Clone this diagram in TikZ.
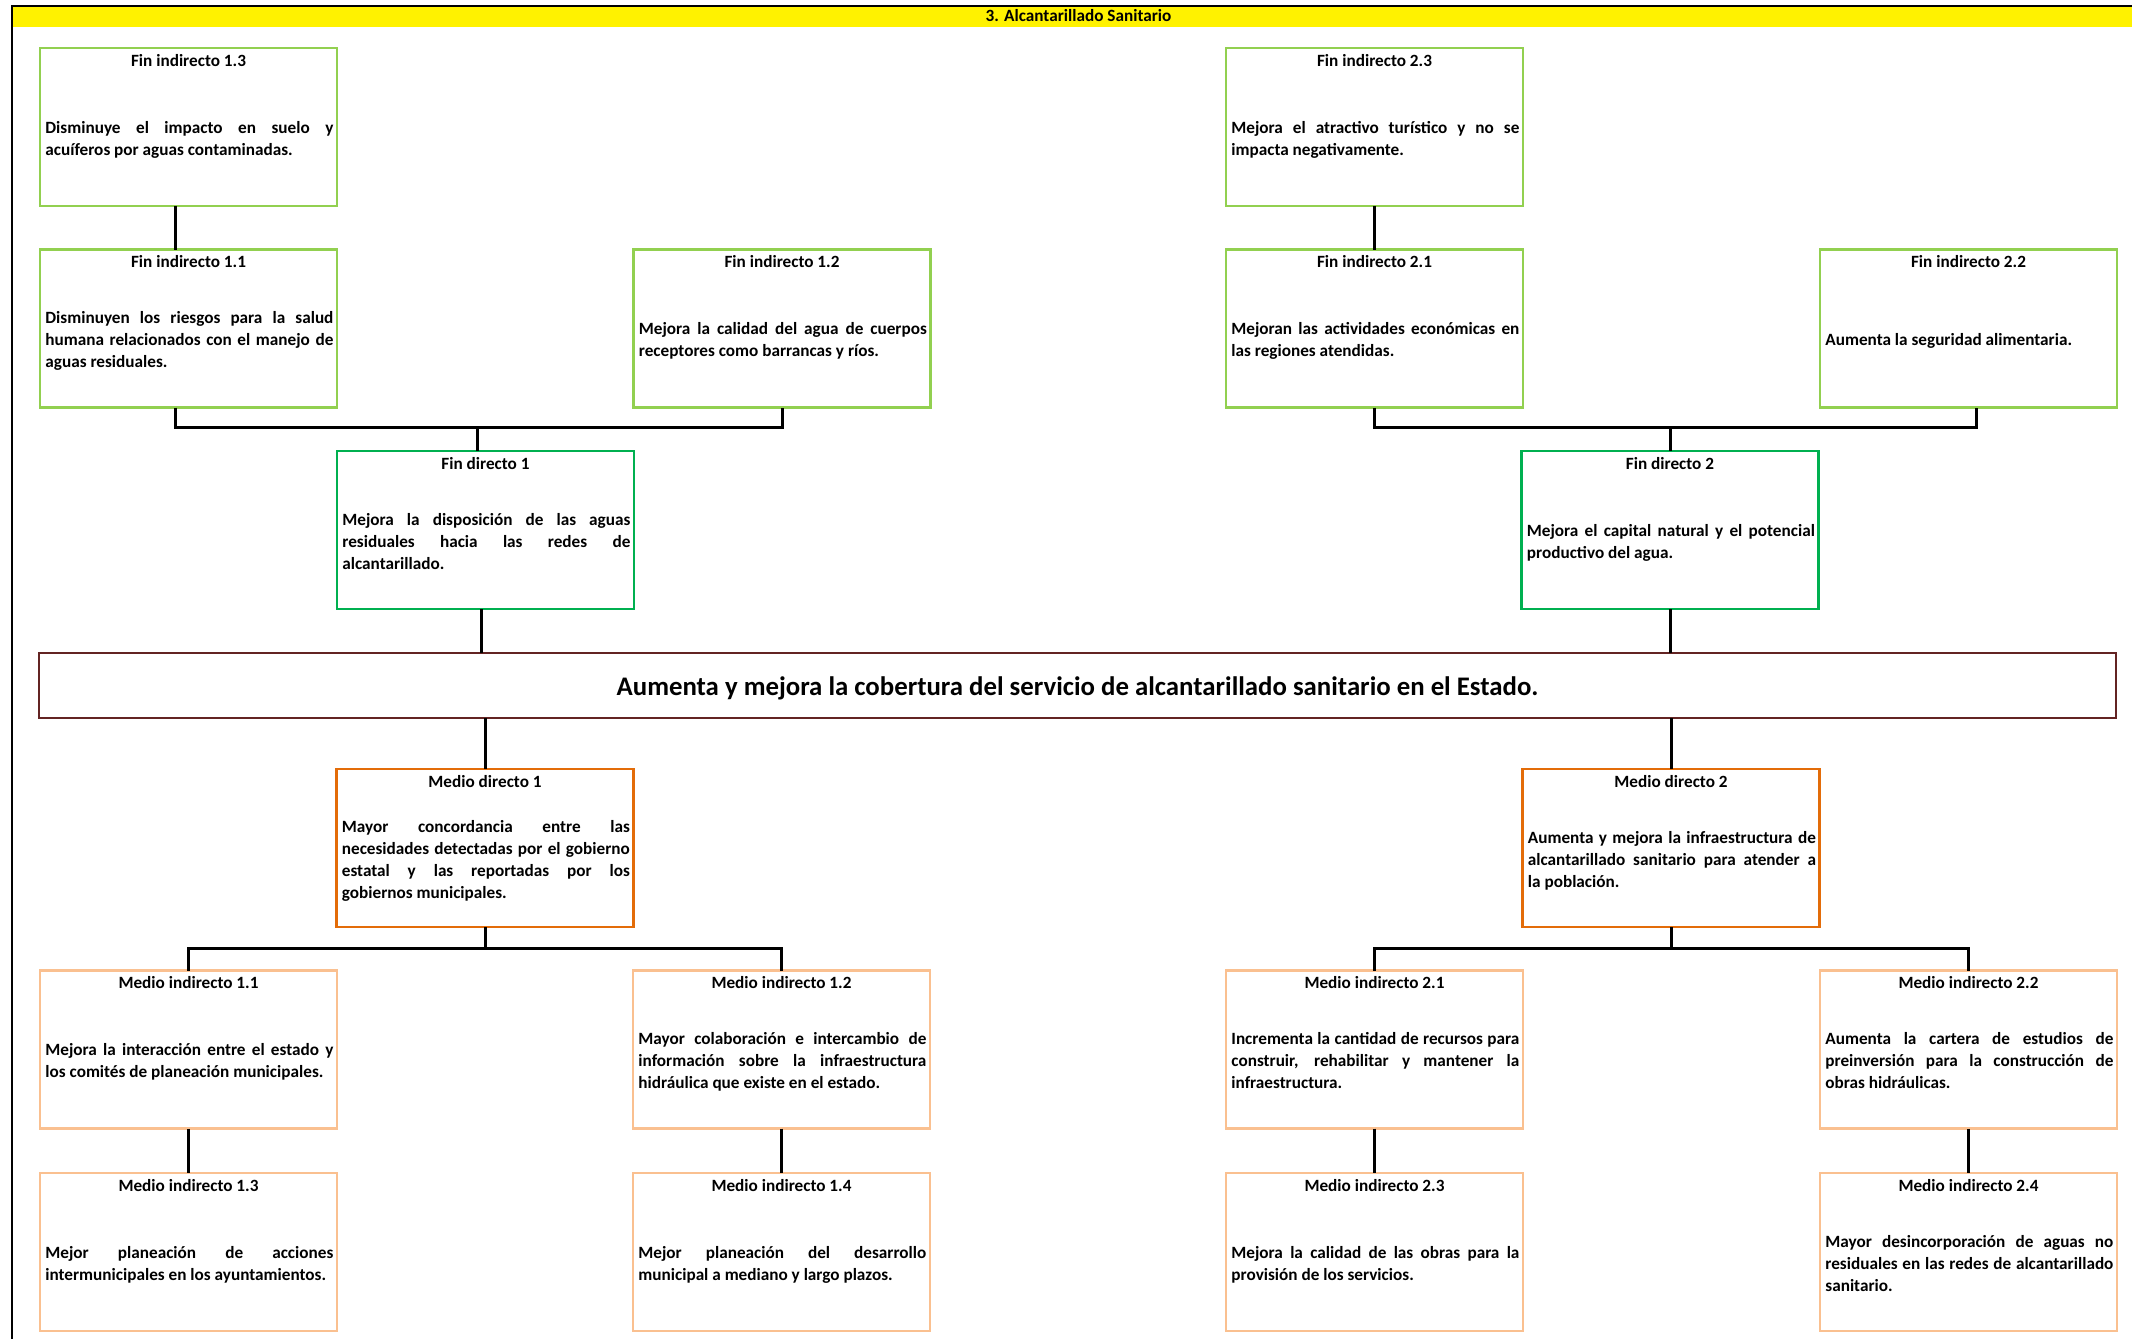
\documentclass[tikz,border=0pt]{standalone}
\usepackage{fontspec}
\setmainfont{Carlito}
\usetikzlibrary{calc}
\definecolor{fiGreen}{HTML}{92D050}
\definecolor{fdGreen}{HTML}{00B050}
\definecolor{mdOrange}{HTML}{E36C09}
\definecolor{miOrange}{HTML}{FAC090}
\definecolor{mainRed}{HTML}{632423}
\newcommand\jl[1]{\makebox[\linewidth][s]{\spaceskip=0pt\relax\xspaceskip=0pt\relax #1}\\}
% name, style, cx, cy, title, number of lines, body
\newcommand\mkbox[7]{%
  \node[#2] (#1) at (#3,#4) {};
  \node[ttl, anchor=base] (#1-t) at ($(#1.north)+(0,18)$) {#5};
  \node[bdy, anchor=base west] (#1-b) at ($(#1.north west)+(5,{96-11*(#6-1)})$) {#7};
}
\begin{document}
\begin{tikzpicture}[x=0.5pt,y=-0.5pt,
  boxbase/.style={rectangle, draw, line width=1.25pt, minimum width=148.5pt, minimum height=79pt, inner sep=0pt, outer sep=0pt},
  finind/.style={boxbase, draw=fiGreen},
  findir/.style={boxbase, draw=fdGreen},
  meddir/.style={boxbase, draw=mdOrange},
  medind/.style={boxbase, draw=miOrange},
  ttl/.style={font=\fontsize{8.6}{11}\selectfont\bfseries, inner sep=0pt},
  bdy/.style={font=\fontsize{8.6}{11}\selectfont\bfseries, text width=144pt, align=justify, inner sep=0pt},
  maintxt/.style={font=\fontsize{13.4}{16}\selectfont\bfseries, inner sep=0pt},
  conn/.style={line width=1.5pt, black},
]
\useasboundingbox (0,0) rectangle (2132,1339);
% frame and header band
\fill[yellow] (13,7) rectangle (2132,27);
\draw[line width=1pt, black] (12,1339) -- (12,6) -- (2132,6);
\node[ttl, anchor=base] (hdr) at (1078.5,21.5) {3. Alcantarillado Sanitario};

% fines indirectos
\mkbox{fi13}{finind}{188.5}{127}{Fin indirecto 1.3}{2}{\jl{Disminuye el impacto en suelo y}acuíferos por aguas contaminadas.}
\mkbox{fi23}{finind}{1374.5}{127}{Fin indirecto 2.3}{2}{\jl{Mejora el atractivo turístico y no se}impacta negativamente.}
\mkbox{fi11}{finind}{188.5}{328.5}{Fin indirecto 1.1}{3}{\jl{Disminuyen los riesgos para la salud}\jl{humana relacionados con el manejo de}aguas residuales.}
\mkbox{fi12}{finind}{782}{328.5}{Fin indirecto 1.2}{2}{\jl{Mejora la calidad del agua de cuerpos}receptores como barrancas y ríos.}
\mkbox{fi21}{finind}{1374.5}{328.5}{Fin indirecto 2.1}{2}{\jl{Mejoran las actividades económicas en}las regiones atendidas.}
\mkbox{fi22}{finind}{1968.5}{328.5}{Fin indirecto 2.2}{1}{Aumenta la seguridad alimentaria.}

% fines directos
\mkbox{fd1}{findir}{485.5}{530}{Fin directo 1}{3}{\jl{Mejora la disposición de las aguas}\jl{residuales hacia las redes de}alcantarillado.}
\mkbox{fd2}{findir}{1670}{530}{Fin directo 2}{2}{\jl{Mejora el capital natural y el potencial}productivo del agua.}

% objetivo central
\node[rectangle, draw=mainRed, line width=1pt, minimum width=1038.5pt, minimum height=32.5pt, inner sep=0pt, outer sep=0pt] (main) at (1077.5,685.5) {};
\node[maintxt] (main-t) at ($(main.center)+(0,3)$)
  {Aumenta y mejora la cobertura del servicio de alcantarillado sanitario en el Estado.};

% medios directos
\mkbox{md1}{meddir}{485}{848}{Medio directo 1}{4}{\jl{Mayor concordancia entre las}\jl{necesidades detectadas por el gobierno}\jl{estatal y las reportadas por los}gobiernos municipales.}
\mkbox{md2}{meddir}{1671}{848}{Medio directo 2}{3}{\jl{Aumenta y mejora la infraestructura de}\jl{alcantarillado sanitario para atender a}la población.}

% medios indirectos
\mkbox{mi11}{medind}{188.5}{1049.5}{Medio indirecto 1.1}{2}{\jl{Mejora la interacción entre el estado y}los comités de planeación municipales.}
\mkbox{mi12}{medind}{781.5}{1049.5}{Medio indirecto 1.2}{3}{\jl{Mayor colaboración e intercambio de}\jl{información sobre la infraestructura}hidráulica que existe en el estado.}
\mkbox{mi21}{medind}{1374.5}{1049.5}{Medio indirecto 2.1}{3}{\jl{Incrementa la cantidad de recursos para}\jl{construir, rehabilitar y mantener la}infraestructura.}
\mkbox{mi22}{medind}{1968.5}{1049.5}{Medio indirecto 2.2}{3}{\jl{Aumenta la cartera de estudios de}\jl{preinversión para la construcción de}obras hidráulicas.}
\mkbox{mi13}{medind}{188.5}{1252}{Medio indirecto 1.3}{2}{\jl{Mejor planeación de acciones}intermunicipales en los ayuntamientos.}
\mkbox{mi14}{medind}{781.5}{1252}{Medio indirecto 1.4}{2}{\jl{Mejor planeación del desarrollo}municipal a mediano y largo plazos.}
\mkbox{mi23}{medind}{1374.5}{1252}{Medio indirecto 2.3}{2}{\jl{Mejora la calidad de las obras para la}provisión de los servicios.}
\mkbox{mi24}{medind}{1968.5}{1252}{Medio indirecto 2.4}{3}{\jl{Mayor desincorporación de aguas no}\jl{residuales en las redes de alcantarillado}sanitario.}

% connectors: fines
\coordinate (fb1) at (477,427);
\coordinate (fb2) at (1670,427);
\draw[conn] ([xshift=-6.75pt]fi13.south) -- ([xshift=-6.75pt]fi11.north);
\draw[conn] (fi23.south) -- (fi21.north);
\draw[conn] ([xshift=-6.75pt]fi11.south) |- (fb1) -| (fi12.south);
\draw[conn] (fb1) -- (fb1 |- fd1.north);
\draw[conn] (fi21.south) |- (fb2) -| ([xshift=3.75pt]fi22.south);
\draw[conn] (fb2) -- (fb2 |- fd2.north);
\draw[conn] ([xshift=-2.25pt]fd1.south) -- ([xshift=-2.25pt]fd1.south |- main.north);
\draw[conn] (fd2.south) -- (fd2.south |- main.north);

% connectors: medios
\coordinate (mb1) at (485,948);
\coordinate (mb2) at (1671,948);
\draw[conn] (md1.north |- main.south) -- (md1.north);
\draw[conn] (md2.north |- main.south) -- (md2.north);
\draw[conn] (md1.south) -- (mb1);
\draw[conn] (md2.south) -- (mb2);
\draw[conn] (mi11.north) |- (mb1) -| (mi12.north);
\draw[conn] (mi21.north) |- (mb2) -| (mi22.north);
\draw[conn] (mi11.south) -- (mi13.north);
\draw[conn] (mi12.south) -- (mi14.north);
\draw[conn] (mi21.south) -- (mi23.north);
\draw[conn] (mi22.south) -- (mi24.north);
\end{tikzpicture}
\end{document}
